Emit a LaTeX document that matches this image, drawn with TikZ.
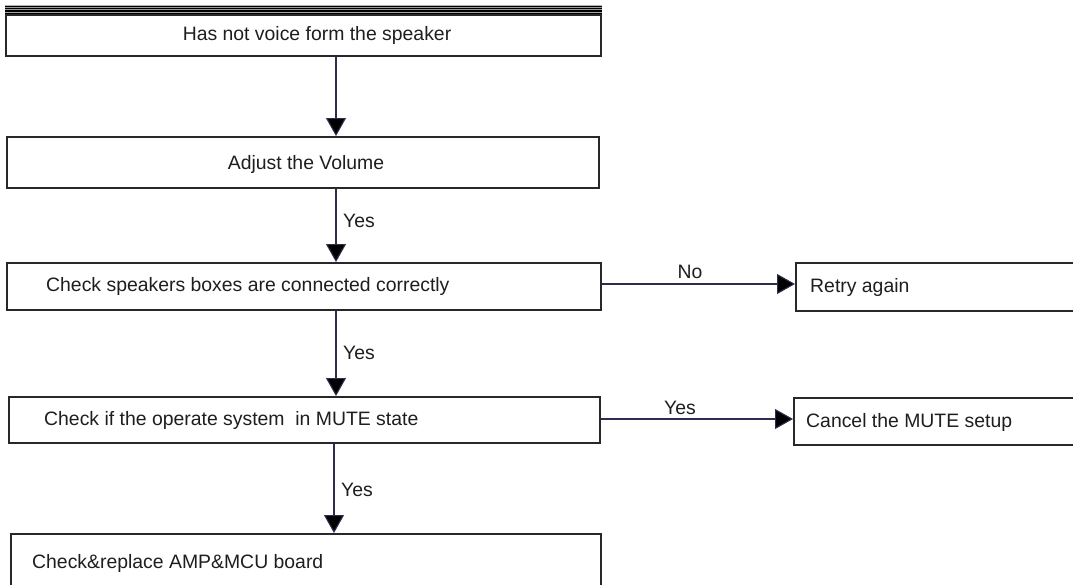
\documentclass[tikz,border=0pt]{standalone}
\usepackage{fontspec}
\setmainfont{Liberation Sans}
\usetikzlibrary{arrows.meta,calc}
\definecolor{edge}{RGB}{40,40,40}
\definecolor{wire}{RGB}{45,45,80}
\definecolor{ink}{RGB}{30,30,30}
\begin{document}
\begin{tikzpicture}[x=1pt,y=-1pt,
  box/.style={draw=edge,line width=1.5pt,rectangle,inner sep=0pt,anchor=north west},
  txt/.style={text=ink,font=\fontsize{19.4}{22}\selectfont,inner sep=0pt},
  arr/.style={draw=wire,line width=1.1pt,-{Triangle[width=20pt,length=18pt,fill=black]}},
  lab/.style={text=ink,font=\fontsize{19.4}{22}\selectfont,inner sep=0pt}]
\clip (0,0) rectangle (1073,584);
\fill[white] (0,0) rectangle (1073,584);
% top stripes
\fill[black] (5,4.5) rectangle (602,14);
\draw[gray!60,line width=0.9pt] (5,5) -- (602,5);
\draw[gray!80,line width=0.7pt] (5,7.3) -- (602,7.3);
\draw[gray!80,line width=0.7pt] (5,9.6) -- (602,9.6);
\draw[gray!70,line width=0.6pt] (5,11.8) -- (602,11.8);
% boxes
\node[box,minimum width=595pt,minimum height=41pt] (b1) at (5,14) {};
\node[box,minimum width=592pt,minimum height=51pt] (b2) at (6,136) {};
\node[box,minimum width=594pt,minimum height=47pt] (b3) at (6,262) {};
\node[box,minimum width=591pt,minimum height=46pt] (b4) at (8,396) {};
\node[box,minimum width=590pt,minimum height=80pt] (b5) at (10,533) {};
\node[box,minimum width=300pt,minimum height=48pt] (r1) at (795,262) {};
\node[box,minimum width=300pt,minimum height=47pt] (r2) at (793,397) {};
% texts
\node[txt] (t1) at (317,35) {Has not voice form the speaker};
\node[txt] (t2) at (306,164) {Adjust the Volume};
\node[txt,anchor=west] (t3) at (46,286) {Check speakers boxes are connected correctly};
\node[txt,anchor=west] (t4) at (44,420) {Check if the operate system\ \ in MUTE state};
\node[txt,anchor=west] (t5) at (32,563) {Check\&replace AMP\&MCU board};
\node[txt,anchor=west] (t6) at (810,287) {Retry again};
\node[txt,anchor=west] (t7) at (806,422) {Cancel the MUTE setup};
% connectors
\coordinate (ax) at (336,0);
\coordinate (bx) at (334,0);
\coordinate (hy1) at (0,284);
\coordinate (hy2) at (0,419);
\draw[arr] (b1.south -| ax) -- (b2.north -| ax);
\draw[arr] (b2.south -| ax) -- (b3.north -| ax);
\draw[arr] (b3.south -| ax) -- (b4.north -| ax);
\draw[arr] (b4.south -| bx) -- (b5.north -| bx);
\draw[arr] (b3.east |- hy1) -- (r1.west |- hy1);
\draw[arr] (b4.east |- hy2) -- (r2.west |- hy2);
% labels
\node[lab,anchor=west] (y1) at (343,221) {Yes};
\node[lab,anchor=west] (y2) at (343,353) {Yes};
\node[lab,anchor=west] (y3) at (341,490) {Yes};
\node[lab] (n1) at (690,272) {No};
\node[lab] (y4) at (680,408) {Yes};
\end{tikzpicture}
\end{document}
